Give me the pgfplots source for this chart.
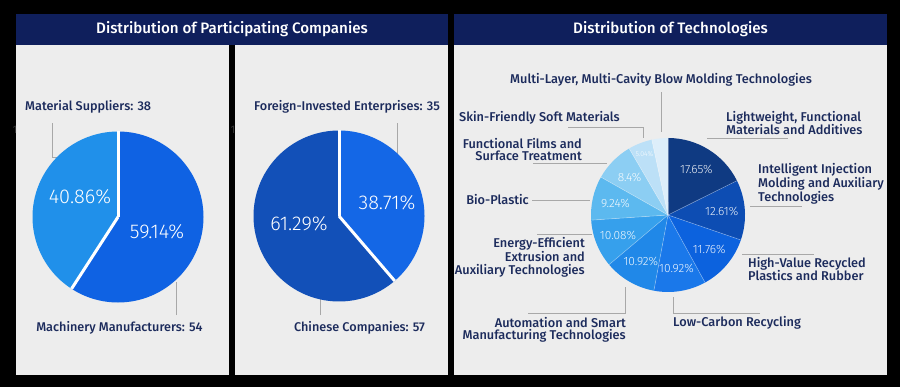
\documentclass[border=0pt]{standalone}
\usepackage{fontspec}
\setmainfont{Fira Sans}
\newfontfamily\lightfont{Fira Sans Light}
\newfontfamily\medfont{Fira Sans Medium}
\usepackage{pgfplots}
\usepackage{pgfplotstable}
\pgfplotsset{compat=1.18}
\usetikzlibrary{calc}

\definecolor{panelbg}{HTML}{EDEDED}
\definecolor{header}{HTML}{0F1F5C}
\definecolor{txt}{HTML}{1C2B5C}
\definecolor{leader}{HTML}{A8A8A8}
\definecolor{mach}{HTML}{0F62E3}
\definecolor{mats}{HTML}{2090EA}
\definecolor{fore}{HTML}{1467E6}
\definecolor{chin}{HTML}{1250B8}
\definecolor{tA}{HTML}{0F3A82}
\definecolor{tB}{HTML}{0D4DB3}
\definecolor{tC}{HTML}{0C62DE}
\definecolor{tD}{HTML}{1A78EA}
\definecolor{tE}{HTML}{2088E8}
\definecolor{tF}{HTML}{36A0EC}
\definecolor{tG}{HTML}{5CB9EF}
\definecolor{tH}{HTML}{8CCEF3}
\definecolor{tI}{HTML}{BCE0F7}
\definecolor{tJ}{HTML}{DDEEFA}

% slices clockwise from 12 o'clock: value (percent), colour, label radius fraction (0 = none), label size
\pgfplotstableread{
v     c     lr   fs
59.14 mach  0    0
40.86 mats  0    0
}\pieA
\pgfplotstableread{
v     c     lr   fs
38.71 fore  0    0
61.29 chin  0    0
}\pieB
\pgfplotstableread{
v     c    lr    fs
17.65 tA   0.70  12
12.61 tB   0.70  12
11.76 tC   0.70  12
10.92 tD   0.70  12
10.92 tE   0.70  12
10.08 tF   0.70  12
9.24  tG   0.70  12
8.4   tH   0.70  12
5.04  tI   0.85  7
3.36  tJ   0    0
}\pieC

\newcommand\drawpie[4]{% table, radius (bp), separator width (bp), separator opacity
  \pgfplotstablegetrowsof{#1}\pgfmathtruncatemacro\pieN{\pgfplotsretval-1}%
  \xdef\piecum{0}%
  \foreach \i in {0,...,\pieN}{%
    \pgfplotstablegetelem{\i}{v}\of{#1}\let\pieval\pgfplotsretval
    \pgfplotstablegetelem{\i}{c}\of{#1}\let\piecol\pgfplotsretval
    \pgfmathsetmacro\pieaA{90-3.6*\piecum}%
    \pgfmathsetmacro\pieaB{90-3.6*(\piecum+\pieval)}%
    \fill[fill=\piecol] (axis cs:0,0) -- ++(\pieaA:#2 bp) arc[start angle=\pieaA, end angle=\pieaB, radius=#2 bp] -- cycle;
    \pgfmathsetmacro\pienc{\piecum+\pieval}\xdef\piecum{\pienc}%
  }%
  \xdef\piecum{0}%
  \foreach \i in {0,...,\pieN}{%
    \pgfplotstablegetelem{\i}{v}\of{#1}\let\pieval\pgfplotsretval
    \pgfmathsetmacro\pieaA{90-3.6*\piecum}%
    \draw[white, draw opacity=#4, line width=#3 bp] (axis cs:0,0) -- ++(\pieaA:#2 bp);
    \pgfmathsetmacro\pienc{\piecum+\pieval}\xdef\piecum{\pienc}%
  }%
}
\newcommand\piepct[2]{% table, radius
  \pgfplotstablegetrowsof{#1}\pgfmathtruncatemacro\pieN{\pgfplotsretval-1}%
  \xdef\piecum{0}%
  \foreach \i in {0,...,\pieN}{%
    \pgfplotstablegetelem{\i}{v}\of{#1}\let\pieval\pgfplotsretval
    \pgfplotstablegetelem{\i}{lr}\of{#1}\let\pielr\pgfplotsretval
    \pgfplotstablegetelem{\i}{fs}\of{#1}\let\piefs\pgfplotsretval
    \pgfmathsetmacro\pieam{90-3.6*(\piecum+\pieval/2)}%
    \pgfmathsetmacro\pierr{\pielr*#2}%
    \pgfmathparse{\pielr>0}%
    \ifnum\pgfmathresult>0
      \node[white, text opacity=0.92, inner sep=0pt, font={\fontsize{\piefs}{\piefs}\selectfont\lightfont}] at ($(axis cs:0,0)+(\pieam:\pierr bp)$) {\pieval\%};
    \fi
    \pgfmathsetmacro\pienc{\piecum+\pieval}\xdef\piecum{\pienc}%
  }%
}

\begin{document}
\begin{tikzpicture}[x=1bp,y=1bp]
\useasboundingbox (0,0) rectangle (900,387);
\fill[black] (0,0) rectangle (900,387);
% panels
\fill[header] (16,342) rectangle (448,373);
\fill[panelbg] (16,12) rectangle (229,342);
\fill[panelbg] (235,12) rectangle (448,342);
\fill[header] (454,342) rectangle (887,373);
\fill[panelbg] (454,12) rectangle (887,342);
\node[white, font={\fontsize{15.2}{15}\selectfont\medfont}] at (232,357.5) {Distribution of Participating Companies};
\node[white, font={\fontsize{15.2}{15}\selectfont\medfont}] at (670.5,357.5) {Distribution of Technologies};
\node[black!80, font={\fontsize{11}{11}\selectfont}] at (15,257) {1};
\node[black!80, font={\fontsize{11}{11}\selectfont}] at (233,257) {1};

% leader lines
\begin{scope}[leader, line width=0.8bp]
\draw (52,264) -- (52,230) -- (72,230);
\draw (176,72) -- (176,105);
\draw (397,264) -- (397,232) -- (378,232);
\draw (320,72) -- (320,105) -- (343,105);
\draw (661,295) -- (661,255);
\draw (568,260) -- (643,260) -- (643,249);
\draw (533,224) -- (607,224);
\draw (532,186.3) -- (590,186.3);
\draw (537,153) -- (592,153);
\draw (528,74) -- (625,74) -- (625,100);
\draw (760,74) -- (673,74) -- (673,90);
\draw (742,133) -- (814,133);
\draw (750,181) -- (802,181);
\draw (707,249) -- (788,249);
\end{scope}

% pies
\begin{axis}[at={(118bp,170bp)}, anchor=center, hide axis, scale only axis, clip=false,
  width=171bp, height=171bp, xmin=-1, xmax=1, ymin=-1, ymax=1]
  \pgfplotsextra{\drawpie{\pieA}{85.5}{3}{1}}
\end{axis}
\begin{axis}[at={(339bp,171bp)}, anchor=center, hide axis, scale only axis, clip=false,
  width=171bp, height=171bp, xmin=-1, xmax=1, ymin=-1, ymax=1]
  \pgfplotsextra{\drawpie{\pieB}{85.5}{3}{1}}
\end{axis}
\begin{axis}[at={(668bp,172bp)}, anchor=center, hide axis, scale only axis, clip=false,
  width=154bp, height=154bp, xmin=-1, xmax=1, ymin=-1, ymax=1]
  \pgfplotsextra{\drawpie{\pieC}{77}{0.6}{0.35}\piepct{\pieC}{77}}
\end{axis}

% percentages of the two company pies
\begin{scope}[every node/.style={white, inner sep=0pt, font={\fontsize{20}{20}\selectfont\lightfont}}]
\node at (80,190) {40.86\%};
\node at (157,155) {59.14\%};
\node at (387,184) {38.71\%};
\node at (299,163) {61.29\%};
\end{scope}

% labels
\begin{scope}[every node/.style={txt, inner sep=0pt, font={\fontsize{12.7}{13}\selectfont\medfont}}]
\node[anchor=west] at (25,280) {Material Suppliers: 38};
\node at (119.5,59) {Machinery Manufacturers: 54};
\node at (347,280) {Foreign-Invested Enterprises: 35};
\node at (359.5,59) {Chinese Companies: 57};
\end{scope}
\begin{scope}[every node/.style={txt, inner sep=0pt, font={\fontsize{12.8}{12.6}\selectfont\medfont}}]
\node at (661,307) {Multi-Layer, Multi-Cavity Blow Molding Technologies};
\node[anchor=east] at (620,269) {Skin-Friendly Soft Materials};
\node[anchor=east, align=right] at (582,237.5) {Functional Films and\\Surface Treatment};
\node[anchor=east] at (529,187) {Bio-Plastic};
\node[anchor=east, align=right] at (585,129.5) {Energy-Efficient\\Extrusion and\\Auxiliary Technologies};
\node[anchor=east, align=right] at (626,57) {Automation and Smart\\Manufacturing Technologies};
\node[anchor=west] at (673,64) {Low-Carbon Recycling};
\node[anchor=west, align=left] at (748,118) {High-Value Recycled\\Plastics and Rubber};
\node[anchor=west, align=left] at (758,203) {Intelligent Injection\\Molding and Auxiliary\\Technologies};
\node[anchor=west, align=left] at (726,264) {Lightweight, Functional\\Materials and Additives};
\end{scope}
\end{tikzpicture}
\end{document}
